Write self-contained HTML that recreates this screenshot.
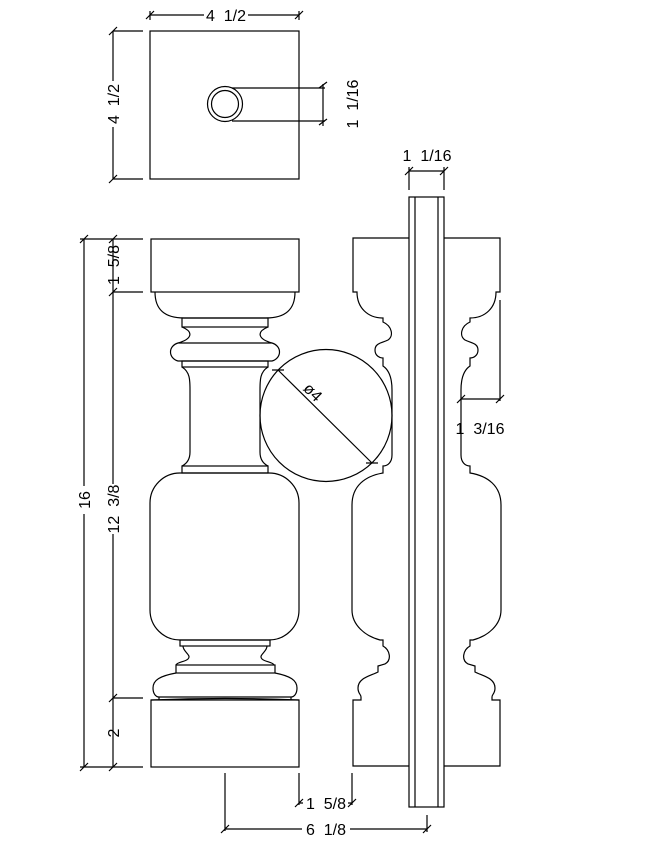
<!DOCTYPE html>
<html><head><meta charset="utf-8"><style>
html,body{margin:0;padding:0;background:#fff;}
svg{display:block;}
text{font-family:"Liberation Sans",sans-serif;font-size:16px;fill:#000;white-space:pre;}
</style></head><body>
<svg width="670" height="845" viewBox="0 0 670 845" xmlns="http://www.w3.org/2000/svg">
<g fill="none" stroke="#000" stroke-width="1.2">
<rect x="150" y="31" width="149" height="148"/>
<circle cx="225" cy="104" r="17.5"/>
<circle cx="225" cy="104" r="13.5"/>
<path d="M232,88 L325,88 M232,121 L325,121 M323,84 L323,126"/>
<path d="M319,88 l8,-6 M319,125 l8,-6"/>
<path d="M150,15 L204,15 M248,15 L299,15 M150,11 L150,20 M299,11 L299,20 M146,19 l8,-8 M295,19 l8,-8"/>
<path d="M113,31 L113,81 M113,127 L113,179 M113,31 L143,31 M113,179 L143,179 M109,35 l8,-8 M109,183 l8,-8"/>

<rect x="151" y="239" width="148" height="53"/>
<path d="M155,292 C155,310 165,318 184,318 L266,318 C285,318 295,310 295,292"/>
<rect x="182" y="318" width="86" height="9"/>
<path d="M182,327 C194,332 192,339 178,343 C168,346 168,358 178,361 L272,361 C282,358 282,346 272,343 C258,339 256,332 268,327 M178,343 L272,343"/>
<rect x="182" y="361" width="86" height="6"/>
<path d="M182,367 C190,372 190,380 190,390 L190,452 C190,460 186,464 182,466 M268,367 C260,372 260,380 260,390 L260,452 C260,460 264,464 268,466"/>
<rect x="182" y="466" width="86" height="7"/>
<rect x="150" y="473" width="149" height="167" rx="30" ry="30"/>
<rect x="180" y="640" width="90" height="6"/>
<path d="M183,646 C183,652 192,655 188,659 C185,662 177,662 176,665 M267,646 C267,652 258,655 262,659 C265,662 273,662 274,665"/>
<rect x="176" y="665" width="99" height="8"/>
<path d="M176,673 C160,676 153,680 153,688 C153,694 156,697 159,697 L291,697 C294,697 297,694 297,688 C297,680 290,676 275,673"/>
<path d="M159,697 L159,700 M291,697 L291,700"/>
<path d="M151,700 Q225,697 299,700"/>
<rect x="151" y="700" width="148" height="67"/>

<circle cx="326" cy="415.5" r="66"/>
<path d="M278,370 L372,463 M272,370 l12,0 M366,463 l12,0"/>

<g id="prof">
<path d="M409,238 L353,238 L353,292 L357,292 C357,308 368,318 383,318 L383,322 C392,326 394,336 388,340 C382,343 375,343 375,350 C375,356 380,358 383,358 L383,366 C389,370 392,378 392,390 L392,455 C392,462 388,466 383,466 L383,473 C365,476 352,486 352,505 L352,610 C352,625 365,636 380,640 L383,640 L383,646 C390,650 392,660 385,664 L378,666 L378,672 C370,676 358,678 358,688 C358,694 361,694 361,697 L361,700 L353,700 L353,766 L409,766"/>
</g>
<use href="#prof" transform="translate(853,0) scale(-1,1)"/>

<rect x="409" y="197" width="35" height="610" fill="#fff"/>
<path d="M415,197 L415,807 M438,197 L438,807"/>
<path d="M409,171 L444,171 M409,167 L409,190 M444,167 L444,190 M405,175 l8,-8 M440,175 l8,-8"/>

<path d="M461,399 L500,399 M500,300 L500,401 M457,403 l8,-8 M496,403 l8,-8"/>

<path d="M84,239 L84,486 M84,514 L84,767 M80,239 L143,239 M80,767 L143,767 M80,243 l8,-8 M80,771 l8,-8"/>
<path d="M113,239 L113,292 M113,292 L113,484 M113,534 L113,698 M113,698 L113,767 M113,292 L143,292 M113,698 L143,698 M109,296 l8,-8 M109,702 l8,-8 M109,243 l8,-8 M109,771 l8,-8"/>

<path d="M299,773 L299,805 M352,773 L352,805 M299,803 L303,803 M348,803 L352,803 M295,807 l8,-8 M348,807 l8,-8"/>
<path d="M225,773 L225,831 M427,815 L427,832 M225,829 L302,829 M350,829 L427,829 M221,833 l8,-8 M423,833 l8,-8"/>
</g>

<g>
<text x="226" y="21" text-anchor="middle">4  1/2</text>
<text transform="translate(119,104) rotate(-90)" text-anchor="middle">4  1/2</text>
<text transform="translate(358,104) rotate(-90)" text-anchor="middle">1  1/16</text>
<text x="427" y="161" text-anchor="middle">1  1/16</text>
<text x="480" y="434" text-anchor="middle">1  3/16</text>
<text transform="translate(90,500) rotate(-90)" text-anchor="middle">16</text>
<text transform="translate(119,265) rotate(-90)" text-anchor="middle">1  5/8</text>
<text transform="translate(119,509) rotate(-90)" text-anchor="middle">12  3/8</text>
<text transform="translate(119,733) rotate(-90)" text-anchor="middle">2</text>
<text x="326" y="809" text-anchor="middle">1  5/8</text>
<text x="326" y="835" text-anchor="middle">6  1/8</text>
<text transform="translate(309,396) rotate(45)" text-anchor="middle">ø4</text>
</g>
</svg>
</body></html>
